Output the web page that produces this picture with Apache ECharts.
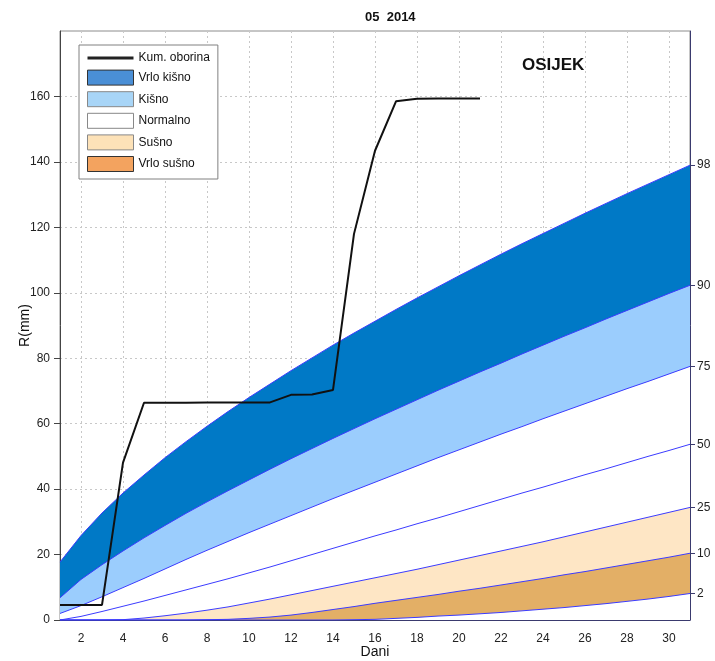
<!DOCTYPE html>
<html>
<head>
<meta charset="utf-8">
<script src="https://cdn.jsdelivr.net/npm/echarts@6/dist/echarts.min.js"></script>
<style>
html,body{margin:0;padding:0;background:#fff;}
#chart{width:715px;height:661px;}
</style>
</head>
<body>
<div id="chart"></div>
<script>
// ---- data ----
const days = ['1','2','3','4','5','6','7','8','9','10','11','12','13','14','15','16','17','18','19','20','21','22','23','24','25','26','27','28','29','30','31'];

// cumulative precipitation (mm), days 1..21
const kumOborina = [4.6, 4.6, 4.6, 48.1, 66.4, 66.4, 66.4, 66.5, 66.5, 66.5, 66.5, 68.8, 68.9, 70.3, 118.0, 143.4, 158.5, 159.3, 159.4, 159.4, 159.4];

// percentile curves (mm), days 1..31
const p98 = [17.7, 25.8, 32.7, 38.8, 44.3, 49.6, 54.5, 59.2, 63.7, 68.0, 72.1, 76.2, 80.1, 84.0, 87.7, 91.3, 94.9, 98.4, 101.8, 105.2, 108.5, 111.8, 115.0, 118.1, 121.2, 124.3, 127.3, 130.3, 133.2, 136.1, 139.0];
const p90 = [6.8, 12.4, 16.9, 21.1, 25.1, 28.9, 32.6, 36.1, 39.5, 42.8, 46.1, 49.3, 52.4, 55.5, 58.5, 61.5, 64.4, 67.3, 70.2, 73.0, 75.8, 78.5, 81.3, 84.0, 86.7, 89.3, 92.0, 94.6, 97.2, 99.8, 102.3];
const p75 = [2.0, 4.4, 7.1, 9.9, 12.7, 15.6, 18.5, 21.3, 24.0, 26.7, 29.3, 31.9, 34.5, 37.1, 39.6, 42.1, 44.6, 47.1, 49.6, 52.0, 54.4, 56.8, 59.1, 61.5, 63.8, 66.1, 68.4, 70.7, 72.9, 75.2, 77.5];
const p50 = [0.0, 1.1, 2.6, 4.2, 5.8, 7.5, 9.2, 10.9, 12.6, 14.4, 16.2, 18.1, 20.0, 21.9, 23.8, 25.7, 27.5, 29.4, 31.2, 33.1, 35.0, 36.9, 38.8, 40.6, 42.5, 44.4, 46.2, 48.1, 50.0, 51.8, 53.7];
const p25 = [0.0, 0.0, 0.0, 0.1, 0.6, 1.3, 2.1, 3.0, 4.0, 5.2, 6.4, 7.7, 9.0, 10.3, 11.6, 12.9, 14.2, 15.5, 16.9, 18.3, 19.7, 21.1, 22.5, 23.9, 25.4, 26.9, 28.4, 29.9, 31.4, 32.9, 34.4];
const p10 = [0.0, 0.0, 0.0, 0.0, 0.0, 0.0, 0.0, 0.1, 0.2, 0.5, 0.9, 1.5, 2.3, 3.2, 4.1, 5.1, 6.0, 6.9, 7.8, 8.8, 9.7, 10.7, 11.7, 12.7, 13.8, 14.8, 15.9, 17.0, 18.1, 19.2, 20.4];
const p2  = [0.0, 0.0, 0.0, 0.0, 0.0, 0.0, 0.0, 0.0, 0.0, 0.0, 0.0, 0.0, 0.0, 0.0, 0.1, 0.2, 0.5, 0.8, 1.2, 1.5, 1.9, 2.3, 2.8, 3.3, 3.8, 4.4, 5.0, 5.7, 6.4, 7.2, 8.1];

const percentileLabels = ['98', '90', '75', '50', '25', '10', '2'];
const yTicks = [0, 20, 40, 60, 80, 100, 120, 140, 160];

const titleText = '05  2014';
const stationText = 'OSIJEK';
const legendNames = ['Kum. oborina', 'Vrlo kišno', 'Kišno', 'Normalno', 'Sušno', 'Vrlo sušno'];

// ---- chart ----
const curves = [p98, p90, p75, p50, p25, p10, p2];
const lastValues = curves.map(c => c[c.length - 1]);
const labelByValue = {};
lastValues.forEach((v, i) => { labelByValue[v] = percentileLabels[i]; });

const FONT = "'Liberation Sans', Arial, sans-serif";
const bandLine = { color: '#3b3bff', width: 1 };

function band(name, data, fill, z) {
  return {
    name: name, type: 'line', data: data, symbol: 'none', smooth: false,
    lineStyle: bandLine, z: z,
    areaStyle: fill ? { color: fill, opacity: 1, origin: 'start' } : undefined,
    emphasis: { disabled: true }, silent: true
  };
}

const chart = echarts.init(document.getElementById('chart'), null, { renderer: 'canvas' });
chart.setOption({
  animation: false,
  backgroundColor: '#ffffff',
  textStyle: { fontFamily: FONT },
  grid: { left: 60, right: 25, top: 31, bottom: 41, show: true, borderColor: '#8c8c8c', borderWidth: 1, backgroundColor: 'transparent', containLabel: false, outerBoundsMode: 'none' },
  graphic: [
    { type: 'text', left: 365, top: 11, style: { text: titleText, font: "bold 13px " + FONT, fill: '#111' } },
    { type: 'text', left: 522, top: 57, style: { text: stationText, font: "bold 17px " + FONT, fill: '#111' } }
  ],
  legend: {
    orient: 'vertical', left: 79, top: 45,
    padding: [7, 8, 7, 8], itemWidth: 46, itemHeight: 15, itemGap: 5.6,
    backgroundColor: '#fff', borderColor: '#808080', borderWidth: 1,
    textStyle: { fontSize: 12, color: '#111', fontFamily: FONT },
    selectedMode: false,
    data: [
      { name: legendNames[0], icon: 'path://M0,0 L46,0 L46,3 L0,3 Z', itemStyle: { color: '#222', borderWidth: 0 } },
      { name: legendNames[1], icon: 'rect', itemStyle: { color: '#4a8fd6', borderColor: '#333', borderWidth: 1 } },
      { name: legendNames[2], icon: 'rect', itemStyle: { color: '#a8d5f7', borderColor: '#888', borderWidth: 1 } },
      { name: legendNames[3], icon: 'rect', itemStyle: { color: '#ffffff', borderColor: '#888', borderWidth: 1 } },
      { name: legendNames[4], icon: 'rect', itemStyle: { color: '#fde2b8', borderColor: '#888', borderWidth: 1 } },
      { name: legendNames[5], icon: 'rect', itemStyle: { color: '#f3a35f', borderColor: '#333', borderWidth: 1 } }
    ]
  },
  xAxis: {
    type: 'category', data: days, boundaryGap: false,
    name: 'Dani', nameLocation: 'middle', nameGap: 25, nameMoveOverlap: false,
    nameTextStyle: { fontSize: 14, color: '#111', fontFamily: FONT },
    axisLine: { lineStyle: { color: '#3a3a6e', width: 1 } },
    axisTick: { show: true, inside: true, length: 4, interval: (i) => (i + 1) % 2 === 0, lineStyle: { color: '#3a3a6e' } },
    axisLabel: { interval: (i) => (i + 1) % 2 === 0, fontSize: 12, color: '#222', margin: 13 },
    splitLine: { show: true, interval: (i) => (i + 1) % 2 === 0, lineStyle: { color: '#c8c8c8', type: [2, 3], width: 1 } }
  },
  yAxis: [
    {
      type: 'value', min: 0, max: 180, interval: 20,
      name: 'R(mm)', nameLocation: 'middle', nameGap: 28, nameMoveOverlap: false,
      nameTextStyle: { fontSize: 14, color: '#111', fontFamily: FONT },
      axisLine: { show: true, lineStyle: { color: '#444', width: 1 } },
      axisTick: { show: true, length: 6, customValues: yTicks, lineStyle: { color: '#444' } },
      axisLabel: { fontSize: 12, color: '#222', margin: 10, customValues: yTicks, formatter: v => (yTicks.indexOf(v) >= 0 ? String(v) : '') },
      splitLine: { show: true, lineStyle: { color: '#c8c8c8', type: [2, 3], width: 1 } }
    },
    {
      type: 'value', min: 0, max: 180, position: 'right',
      axisLine: { show: true, lineStyle: { color: '#3a3a6e', width: 1 } },
      axisTick: { show: true, length: 5, customValues: lastValues, lineStyle: { color: '#3a3a6e' } },
      axisLabel: { show: true, fontSize: 12, color: '#222', margin: 7, customValues: lastValues, formatter: v => labelByValue[v] || '' },
      splitLine: { show: false }
    }
  ],
  series: [
    band(legendNames[1], p98, '#0079c6', 2),
    band(legendNames[2], p90, '#9bcdfd', 3),
    band(legendNames[3], p75, '#ffffff', 4),
    band('p50', p50, null, 5),
    band(legendNames[4], p25, '#fee6c5', 6),
    band(legendNames[5], p10, '#e3af66', 7),
    band('p2', p2, '#ffffff', 8),
    {
      name: legendNames[0], type: 'line', data: kumOborina, symbol: 'none',
      lineStyle: { color: '#111', width: 2 }, z: 10, silent: true
    }
  ]
});
</script>
</body>
</html>
